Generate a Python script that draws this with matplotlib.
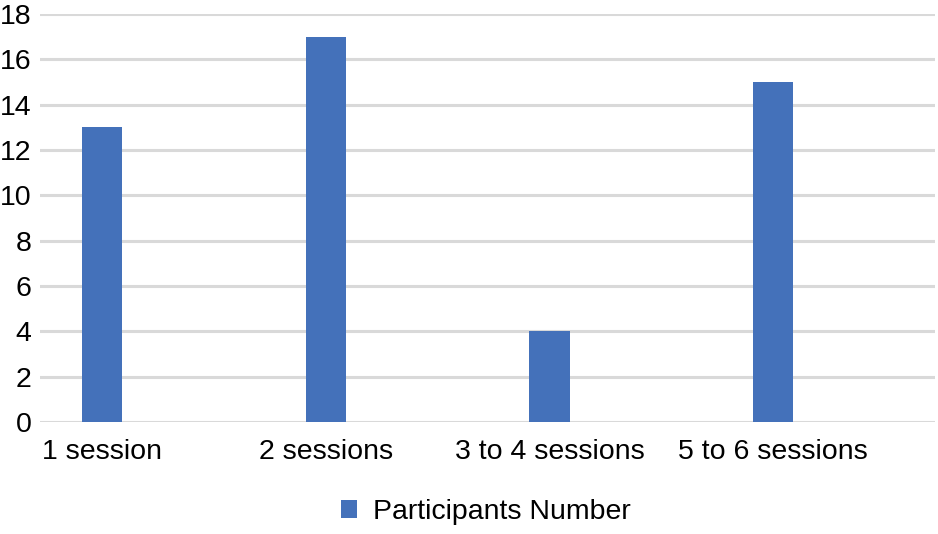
import matplotlib.pyplot as plt
import numpy as np

categories = ["1 session", "2 sessions", "3 to 4 sessions", "5 to 6 sessions"]
participants = [13, 17, 4, 15]
series_name = "Participants Number"

plt.rcParams["font.family"] = ["Liberation Sans", "DejaVu Sans"]

fig = plt.figure(figsize=(9.38, 5.34), dpi=100)
ax = fig.add_axes([40 / 938, 1 - 422 / 534, 895 / 938, 408 / 534])

x = np.arange(len(categories))
ax.bar(x, participants, width=0.18, color="#4471BA", label=series_name, zorder=3)

ax.set_ylim(0, 18)
ax.set_yticks(range(0, 19, 2))
ax.set_xlim(-0.277, 3.723)
ax.set_xticks(x)
ax.set_xticklabels(categories)

ax.grid(axis="y", color="#d9d9d9", linewidth=2.2, zorder=0)
ax.set_axisbelow(True)
for side in ["top", "right", "left", "bottom"]:
    ax.spines[side].set_visible(False)
ax.tick_params(axis="both", length=0, labelsize=20.5, colors="black")
ax.tick_params(axis="y", pad=6)
ax.tick_params(axis="x", pad=12)

ax.legend(loc="center", bbox_to_anchor=(486 / 938, 1 - 512 / 534),
          bbox_transform=fig.transFigure, frameon=False, fontsize=20.5,
          handlelength=0.55, handleheight=0.55, handletextpad=0.55)

fig.savefig("out.png", dpi=100)
